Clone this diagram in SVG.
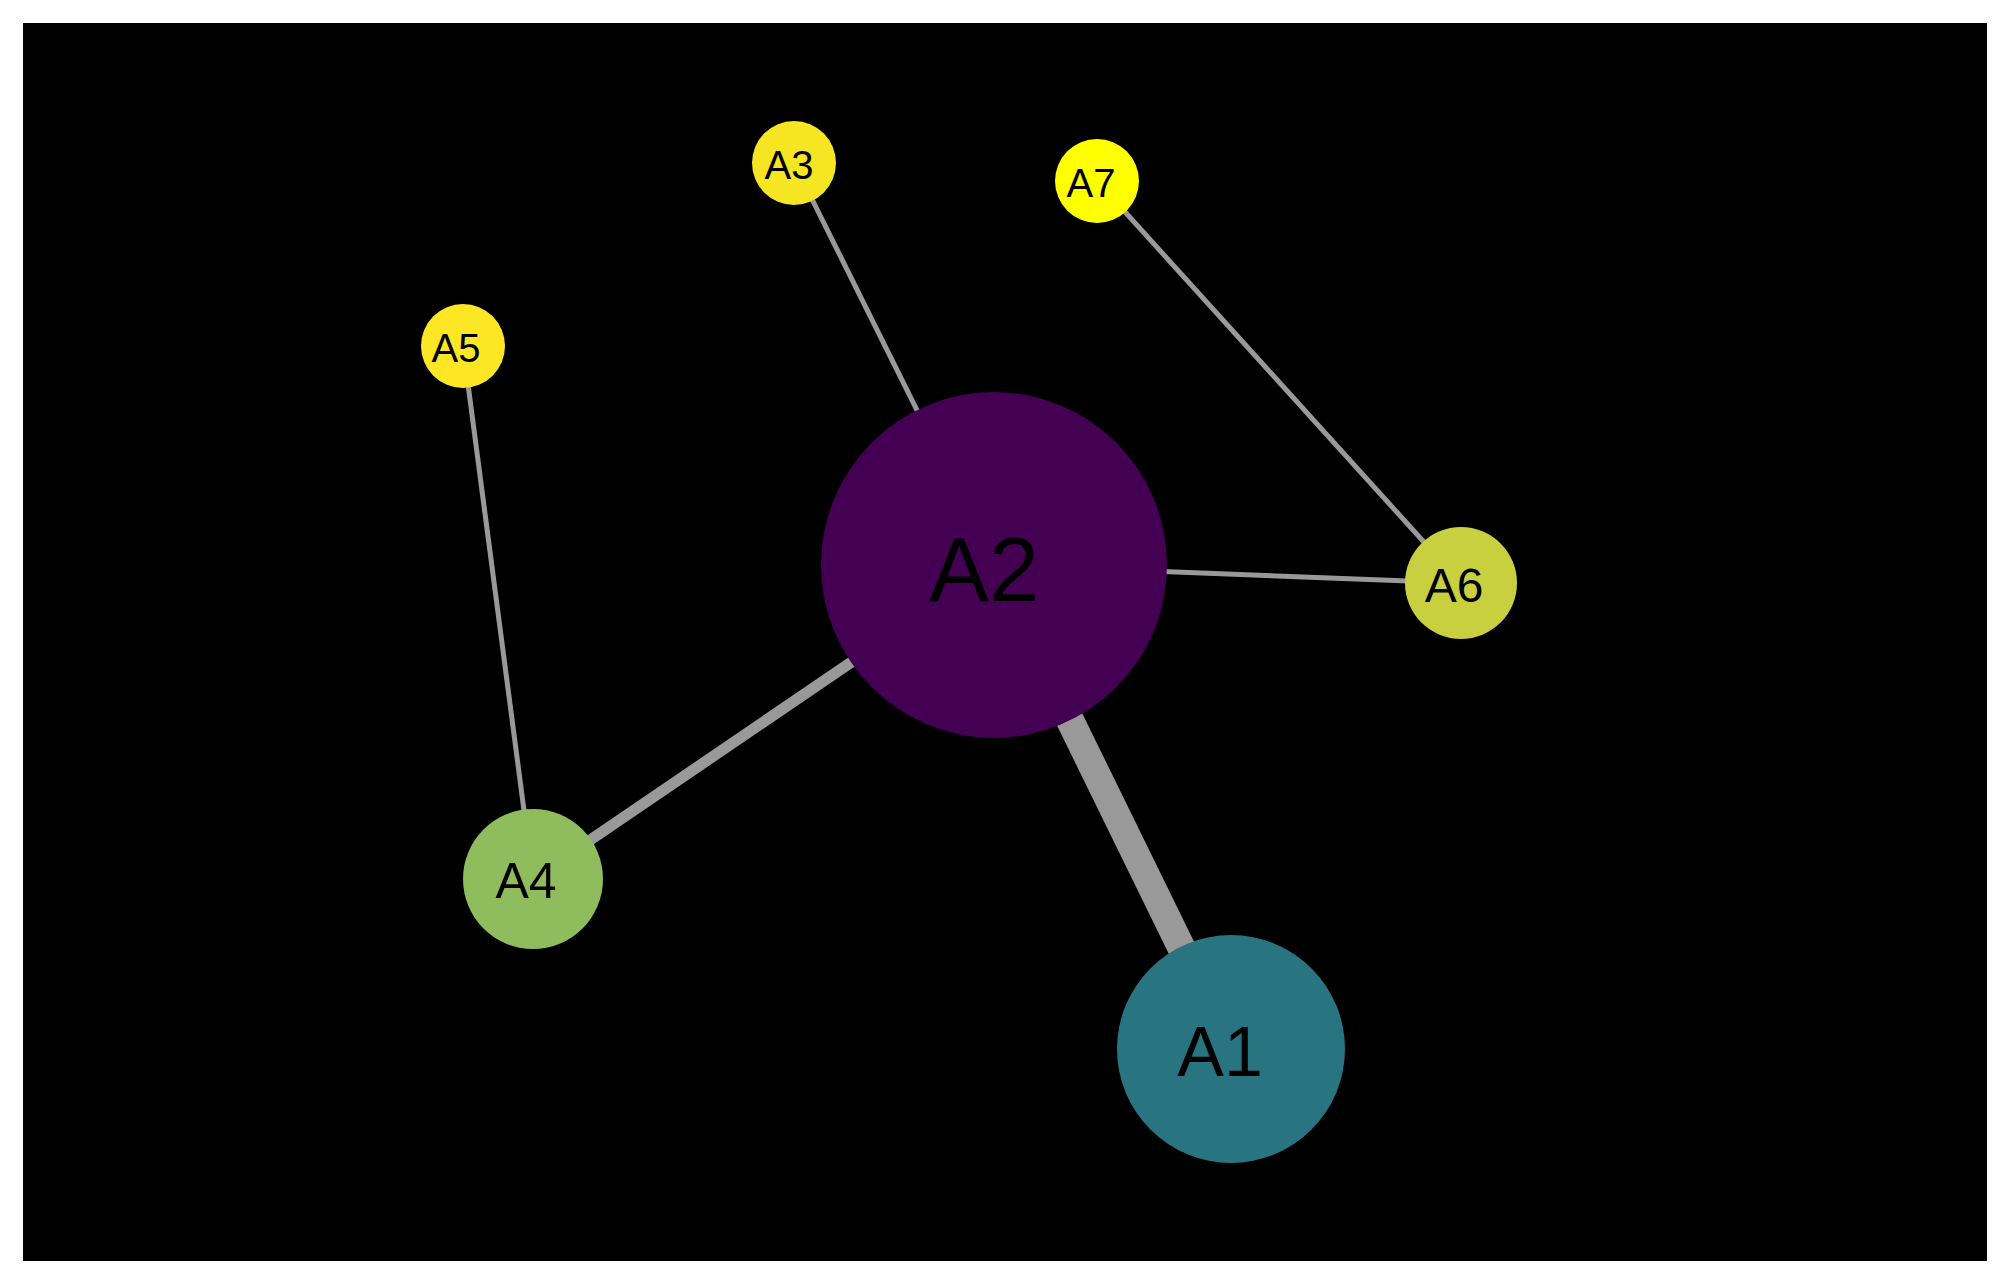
<svg xmlns="http://www.w3.org/2000/svg" width="2009" height="1282" viewBox="0 0 2009 1282">
<style>
.e{stroke:#999999;fill:none}
text{font-family:"Liberation Sans",Arial,sans-serif;fill:#000;text-anchor:middle;dominant-baseline:central}
</style>
<rect width="2009" height="1282" fill="#fff"/>
<rect x="23" y="23" width="1964" height="1238" fill="#000"/>
<g id="edges">
<line class="e" x1="994" y1="565" x2="1231" y2="1049" stroke-width="28"/>
<line class="e" x1="994" y1="565" x2="533" y2="879" stroke-width="11"/>
<line class="e" x1="994" y1="565" x2="794" y2="163" stroke-width="5"/>
<line class="e" x1="994" y1="565" x2="1461" y2="583" stroke-width="5"/>
<line class="e" x1="1097" y1="181" x2="1461" y2="583" stroke-width="5"/>
<line class="e" x1="463" y1="346" x2="533" y2="879" stroke-width="5"/>
</g>
<g id="A2"><circle cx="994" cy="565" r="173" fill="#440154"/><text x="984" y="570" font-size="90">A2</text></g>
<g id="A1"><circle cx="1231" cy="1049" r="114" fill="#287480"/><text x="1220" y="1052" font-size="70">A1</text></g>
<g id="A4"><circle cx="533" cy="879" r="70" fill="#8FBC5C"/><text x="526" y="881" font-size="50">A4</text></g>
<g id="A6"><circle cx="1461" cy="583" r="56" fill="#C8D040"/><text x="1454" y="585" font-size="48">A6</text></g>
<g id="A3"><circle cx="794" cy="163" r="42" fill="#F5E523"/><text x="789" y="165" font-size="40">A3</text></g>
<g id="A7"><circle cx="1097" cy="181" r="42" fill="#FFFF00"/><text x="1091" y="183" font-size="40">A7</text></g>
<g id="A5"><circle cx="463" cy="346" r="42" fill="#FDE725"/><text x="456" y="348" font-size="40">A5</text></g>
</svg>
